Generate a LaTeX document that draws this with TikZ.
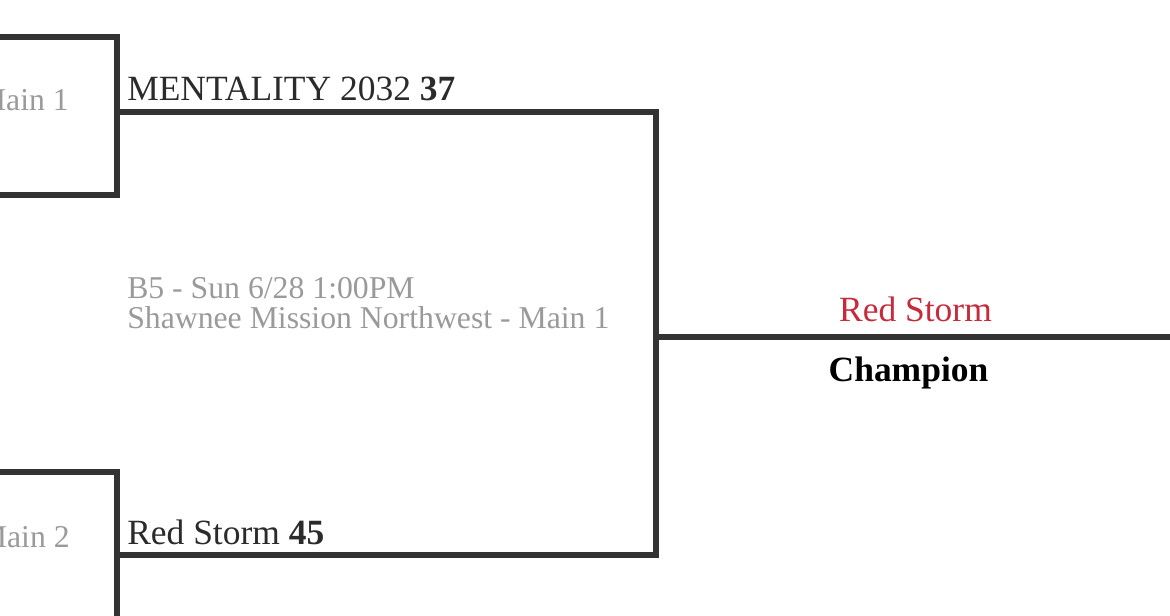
\documentclass[tikz,border=0pt]{standalone}
\usepackage{fontspec}
\setmainfont{Liberation Serif}
\definecolor{linec}{HTML}{333333}
\definecolor{teamc}{HTML}{2B2B2B}
\definecolor{infoc}{HTML}{9A9A9A}
\definecolor{redc}{HTML}{C62B3B}
\begin{document}
\begin{tikzpicture}[x=0.75pt,y=-0.75pt,
  bracket/.style={draw=linec, line width=4.5pt, line join=miter},
  team/.style={anchor=base west, inner sep=0pt, text=teamc, font=\fontsize{26.6}{30}\selectfont},
  info/.style={anchor=base west, inner sep=0pt, text=infoc, font=\fontsize{23.8}{24}\selectfont},
  court/.style={anchor=base east, inner sep=0pt, text=infoc, font=\fontsize{23.8}{24}\selectfont},
  winner/.style={anchor=base, inner sep=0pt, text=redc, font=\fontsize{26.6}{30}\selectfont},
  title/.style={anchor=base, inner sep=0pt, text=black, font=\fontsize{26.6}{30}\selectfont\bfseries}]
\useasboundingbox (0,0) rectangle (1170,616);
% corners of the bracket
\coordinate (t0) at (0,37);
\coordinate (t1) at (117,37);
\coordinate (t2) at (117,195);
\coordinate (t3) at (0,195);
\coordinate (a) at (117,112);
\coordinate (b) at (656,112);
\coordinate (c) at (656,555);
\coordinate (d) at (117,555);
\coordinate (m) at (656,337);
\coordinate (e) at (1172,337);
\coordinate (u0) at (0,472);
\coordinate (u1) at (117,472);
\coordinate (u2) at (117,620);
% lines
\draw[bracket] (t0) -- (t1) -- (t2) -- (t3);
\draw[bracket] (a) -- (b) -- (c) -- (d);
\draw[bracket] (m) -- (e);
\draw[bracket] (u0) -- (u1) -- (u2);
% texts
\node[court] (main1) at (69,111) {Main 1};
\node[court] (main2) at (70,547) {Main 2};
\node[team] (team1) at (127,101) {MENTALITY 2032 \textbf{37}};
\node[team] (team2) at (127,544) {Red Storm \textbf{45}};
\node[info] (info1) at (127,299) {B5 - Sun 6/28 1:00PM};
\node[info] (info2) at (127,329) {Shawnee Mission Northwest - Main 1};
\node[winner] (win) at (915.5,322) {Red Storm};
\node[title] (champ) at (908.5,381) {Champion};
\end{tikzpicture}
\end{document}
